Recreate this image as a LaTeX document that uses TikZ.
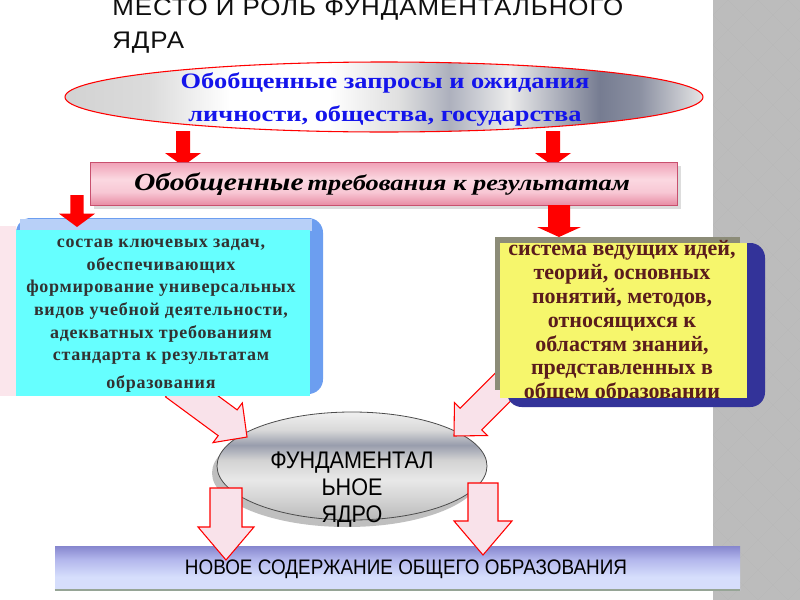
\documentclass[tikz,border=0pt]{standalone}
\usepackage{fontspec}
\setmainfont{Liberation Serif}
\newfontfamily\sansf{Liberation Sans}
\newfontfamily\titlefont[FakeStretch=1.08,LetterSpace=4]{Liberation Sans}
\newfontfamily\condsans[FakeStretch=0.9]{Liberation Sans}
\newfontfamily\wideserif[FakeStretch=1.2]{Liberation Serif}
\newfontfamily\spacedserif[LetterSpace=4]{Liberation Serif}
\usetikzlibrary{calc,shapes.geometric}
\definecolor{panelD}{RGB}{170,170,170}
\definecolor{panelL}{RGB}{188,188,188}
\definecolor{slate}{RGB}{118,124,145}
\definecolor{pinkA}{RGB}{240,160,182}
\definecolor{pinkB}{RGB}{251,216,225}
\definecolor{pinkC}{RGB}{232,140,164}
\definecolor{pinkEdge}{RGB}{200,80,110}
\definecolor{arrowfill}{RGB}{249,226,234}
\definecolor{cyanbox}{RGB}{102,255,255}
\definecolor{blueback}{RGB}{108,158,240}
\definecolor{bluebackL}{RGB}{184,208,248}
\definecolor{paleshadow}{RGB}{251,230,236}
\definecolor{navy}{RGB}{51,51,153}
\definecolor{olivegray}{RGB}{140,140,120}
\definecolor{yellowbox}{RGB}{246,246,108}
\definecolor{maroon}{RGB}{90,28,28}
\definecolor{charcoal}{RGB}{50,50,50}
\definecolor{ellblue}{RGB}{20,20,235}
\definecolor{lavA}{RGB}{134,134,206}
\definecolor{lavB}{RGB}{178,182,236}
\definecolor{lavC}{RGB}{214,222,252}
\definecolor{lineGreen}{RGB}{150,165,150}
\definecolor{titlegray}{RGB}{15,15,15}
\pgfdeclarehorizontalshading{metalH}{100bp}{color(0bp)=(gray!35); color(25bp)=(gray!35); color(31.6bp)=(gray!28); color(37.9bp)=(white); color(45.7bp)=(white); color(51.2bp)=(gray!25); color(55.1bp)=(slate!60); color(59.8bp)=(gray!15); color(66.9bp)=(slate); color(70bp)=(slate!85); color(75bp)=(gray!20); color(100bp)=(gray!20)}
\pgfdeclareverticalshading{metalV}{100bp}{color(0bp)=(gray!55); color(25bp)=(gray!55); color(34.3bp)=(gray!35); color(43.5bp)=(gray!18); color(52.8bp)=(gray!35); color(59.7bp)=(slate!75); color(66.7bp)=(gray!30); color(75bp)=(gray!12); color(100bp)=(gray!12)}
\pgfdeclareverticalshading{pinkV}{100bp}{color(0bp)=(pinkC); color(25bp)=(pinkC); color(40bp)=(pinkB!70!pinkA); color(55bp)=(pinkB); color(75bp)=(pinkA); color(100bp)=(pinkA)}
\pgfdeclareverticalshading{lavV}{100bp}{color(0bp)=(lavC); color(25bp)=(lavC); color(40bp)=(lavC); color(60bp)=(lavB); color(75bp)=(lavA); color(100bp)=(lavA)}
\newcommand\fatarrow[7]{%
  \coordinate (#2-s) at (#3);
  \coordinate (#2-t) at (#4);
  \coordinate (#2-b) at ($(#2-t)!#7!(#2-s)$);
  \path[#1] ($(#2-s)!#5!90:(#2-t)$) -- ($(#2-b)!#5!-90:(#2-s)$) -- ($(#2-b)!#6!-90:(#2-s)$) -- (#2-t) -- ($(#2-b)!#6!90:(#2-s)$) -- ($(#2-b)!#5!90:(#2-s)$) -- ($(#2-s)!#5!-90:(#2-t)$) -- cycle;
}
\tikzset{
  redarrow/.style={fill=red, draw=none},
  hollowarrow/.style={fill=arrowfill, draw=red, line width=0.8pt, line join=miter},
  serifbox/.style={align=center, inner sep=0},
  plainbox/.style={rectangle, inner sep=0},
  titletext/.style={anchor=base west, font=\titlefont\fontsize{18pt}{18pt}\selectfont, text=titlegray, inner sep=0},
}
\begin{document}
\begin{tikzpicture}[x=0.75pt,y=-0.75pt]
\useasboundingbox (0,0) rectangle (800,600);
\clip (0,0) rectangle (800,600);
% side panel
\fill[panelD] (713,0) rectangle (800,600);
\begin{scope}
\clip (713,0) rectangle (800,600);
\foreach \i in {0,...,3}{\foreach \j in {0,...,20}{
  \fill[panelL] (713+30*\i,30*\j) ++(-15,0) -- ++(15,-15) -- ++(15,15) -- ++(-15,15) -- cycle;
  \fill[panelL] (728+30*\i,15+30*\j) ++(-15,0) -- ++(15,-15) -- ++(15,15) -- ++(-15,15) -- cycle;
}}
\end{scope}
% title
\node[titletext] (title1) at (112,15) {МЕСТО И РОЛЬ ФУНДАМЕНТАЛЬНОГО};
\node[titletext] (title2) at (112,48) {ЯДРА};
% top ellipse
\node[ellipse, draw=red, line width=0.8pt, shading=metalH, minimum width=478.5pt, minimum height=52.5pt, inner sep=0] (req) at (384,97) {};
\node[font=\wideserif\bfseries\fontsize{16.5pt}{24.75pt}\selectfont, text=ellblue, align=center, inner sep=0] (reqtext) at (385,99) {Обобщенные запросы и ожидания\\личности, общества, государства};
% red arrows top
\fatarrow{redarrow}{a1}{183,131}{183,166}{5.25pt}{13.5pt}{9.75pt}
\fatarrow{redarrow}{a2}{553,131}{553,166}{5.25pt}{13.5pt}{9.75pt}
% pink box
\fill[gray!45, opacity=0.6] (94,166) rectangle (681,209);
\node[plainbox, draw=pinkEdge, line width=0.6pt, shading=pinkV, minimum width=440.25pt, minimum height=32.25pt] (gen) at (383.5,183.5) {};
\node[inner sep=0, font=\wideserif\bfseries\itshape] (gentext) at (382,184) {{\fontsize{18.5pt}{20pt}\selectfont Обобщенные} \fontsize{16.5pt}{18pt}\selectfont требования к результатам};
% central ellipse
\fill[gray!50] (347,473) ellipse [x radius=135, y radius=54];
\node[ellipse, draw=black!70, line width=0.6pt, shading=metalV, minimum width=202.5pt, minimum height=81pt, inner sep=0] (core) at (352,466) {};
% bottom box
\node[plainbox, shading=lavV, minimum width=513.75pt, minimum height=33pt] (newc) at (397.5,568) {};
\draw[lineGreen, line width=1.5pt] (newc.south west) -- (newc.south east);
\node[font=\condsans\fontsize{15.75pt}{16pt}\selectfont, inner sep=0] (newctext) at (406,569) {НОВОЕ СОДЕРЖАНИЕ ОБЩЕГО ОБРАЗОВАНИЯ};
% hollow arrows
\fatarrow{hollowarrow}{fl}{175,384}{247,437}{12pt}{18.5pt}{18pt}
\fatarrow{hollowarrow}{fr}{512,378}{454,436}{11.5pt}{17.5pt}{18pt}
\fatarrow{hollowarrow}{dl}{226,488}{226,560}{12pt}{21pt}{24.75pt}
\fatarrow{hollowarrow}{dr}{483,483}{483,555}{11.25pt}{21.75pt}{25.5pt}
% core text
\node[font=\condsans\fontsize{18pt}{20.25pt}\selectfont, align=center, inner sep=0] (coretext) at (352,490) {ФУНДАМЕНТАЛ\\ЬНОЕ\\ЯДРО};
% left boxes
\fill[paleshadow] (0,226) rectangle (16,396);
\fill[blueback, rounded corners=11pt] (16,218) rectangle (323,394);
\fill[bluebackL] (20,219) rectangle (312,231);
\node[plainbox, fill=cyanbox, minimum width=220.5pt, minimum height=124.5pt] (tasks) at (163,313) {};
\node[serifbox, font=\spacedserif\bfseries\fontsize{13.5pt}{17pt}\selectfont, text=charcoal] (taskstext) at (161,316) {состав ключевых задач,\\ обеспечивающих\\ формирование универсальных\\ видов учебной деятельности,\\ адекватных требованиям\\ стандарта к результатам\\[4pt] образования};
% right boxes
\fill[olivegray] (495,237) rectangle (740,390);
\fill[navy, rounded corners=11pt] (507,243) rectangle (765,407);
\node[plainbox, fill=yellowbox, minimum width=185.25pt, minimum height=116.25pt] (ideas) at (623.5,320.5) {};
\begin{scope}
\clip (480,200) rectangle (760,398);
\node[serifbox, font=\bfseries\fontsize{16.5pt}{17.9pt}\selectfont, text=maroon] (ideastext) at (622,322) {система ведущих идей,\\теорий, основных\\понятий, методов,\\относящихся к\\областям знаний,\\представленных в\\общем образовании};
\end{scope}
% red arrows lower
\fatarrow{redarrow}{a3}{77,195}{77,227}{5pt}{13.5pt}{10pt}
\fatarrow{redarrow}{a4}{559,205}{559,237}{8.25pt}{16.5pt}{7.5pt}
\end{tikzpicture}
\end{document}
